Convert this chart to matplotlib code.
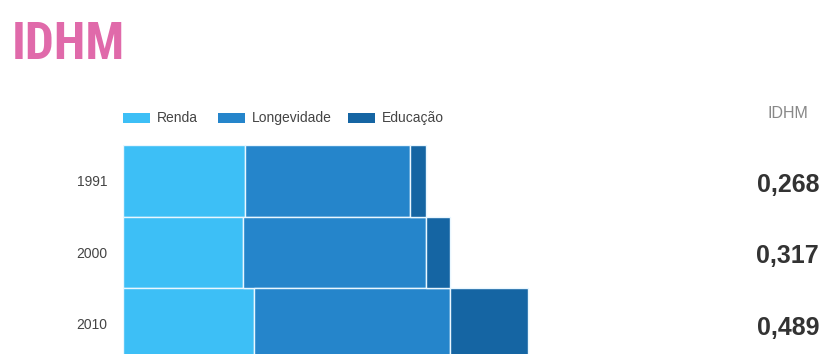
import matplotlib
matplotlib.use("Agg")
import matplotlib.pyplot as plt
from matplotlib.patches import Rectangle
from matplotlib import font_manager

years = ["1991", "2000", "2010"]
renda = [0.478, 0.471, 0.514]
longevidade = [0.647, 0.718, 0.769]
educacao = [0.063, 0.092, 0.306]
idhm = ["0,268", "0,317", "0,489"]
series_names = ["Renda", "Longevidade", "Educação"]
colors = ["#3dbff6", "#2585cb", "#1565a3"]

W, H = 822, 354
fig = plt.figure(figsize=(W / 100, H / 100), dpi=100)

ax_left, ax_right = 123, 723
ax_top = 145
unit_px = 255.0
row_px = 71.5
ax = fig.add_axes([ax_left / W, 0, (ax_right - ax_left) / W, (H - ax_top) / H])
ax.set_xlim(0, (ax_right - ax_left) / unit_px)
bottom_data = -0.5 + (H - ax_top) / row_px
ax.set_ylim(bottom_data, -0.5)

ypos = list(range(len(years)))
lefts = [0.0] * len(years)
for vals, col in zip([renda, longevidade, educacao], colors):
    ax.barh(ypos, vals, left=lefts, height=1.0, color=col,
            edgecolor="#eaf7ff", linewidth=1.0, zorder=2)
    lefts = [l + v for l, v in zip(lefts, vals)]

for s in ax.spines.values():
    s.set_visible(False)
ax.set_xticks([])
ax.set_yticks(ypos)
ax.set_yticklabels(years, fontfamily="Liberation Sans", fontsize=10, color="#444444")
ax.tick_params(axis="y", length=0, pad=11)

# title: prefer a condensed bold face if one is installed
names = {f.name for f in font_manager.fontManager.ttflist}
title_fam = None
for cand in ["Liberation Sans Narrow", "DejaVu Sans Condensed", "Roboto Condensed",
             "Open Sans Condensed"]:
    if cand in names:
        title_fam = cand
        break
if title_fam is None:
    title_fam = "DejaVu Sans"
    t = fig.text(12 / W, 1 - 59 / H, "IDHM", fontsize=37, fontweight="bold",
                 family=title_fam, fontstretch="condensed", color="#e06aaa",
                 ha="left", va="baseline")
else:
    t = fig.text(12 / W, 1 - 59 / H, "IDHM", fontsize=37, fontweight="bold",
                 family=title_fam, color="#e06aaa", ha="left", va="baseline")

# legend
leg_x = [123, 218, 348]
for x0, name, col in zip(leg_x, series_names, colors):
    fig.patches.append(Rectangle((x0 / W, 1 - 123 / H), 27 / W, 10 / H,
                                 transform=fig.transFigure, facecolor=col,
                                 edgecolor="none"))
    fig.text((x0 + 34) / W, 1 - 118 / H, name, fontsize=10,
             fontfamily="Liberation Sans", color="#444444",
             ha="left", va="center")

fig.text(808 / W, 1 - 113 / H, "IDHM", fontsize=11.5,
         fontfamily="Liberation Sans", color="#888888", ha="right", va="center")
for i, v in enumerate(idhm):
    yc = ax_top + (i + 0.5) * row_px + 4
    fig.text(819 / W, 1 - yc / H, v, fontsize=18, fontweight="bold",
             fontfamily="Liberation Sans", color="#333333", ha="right", va="center")

fig.savefig("out.png", dpi=100, facecolor="white")
